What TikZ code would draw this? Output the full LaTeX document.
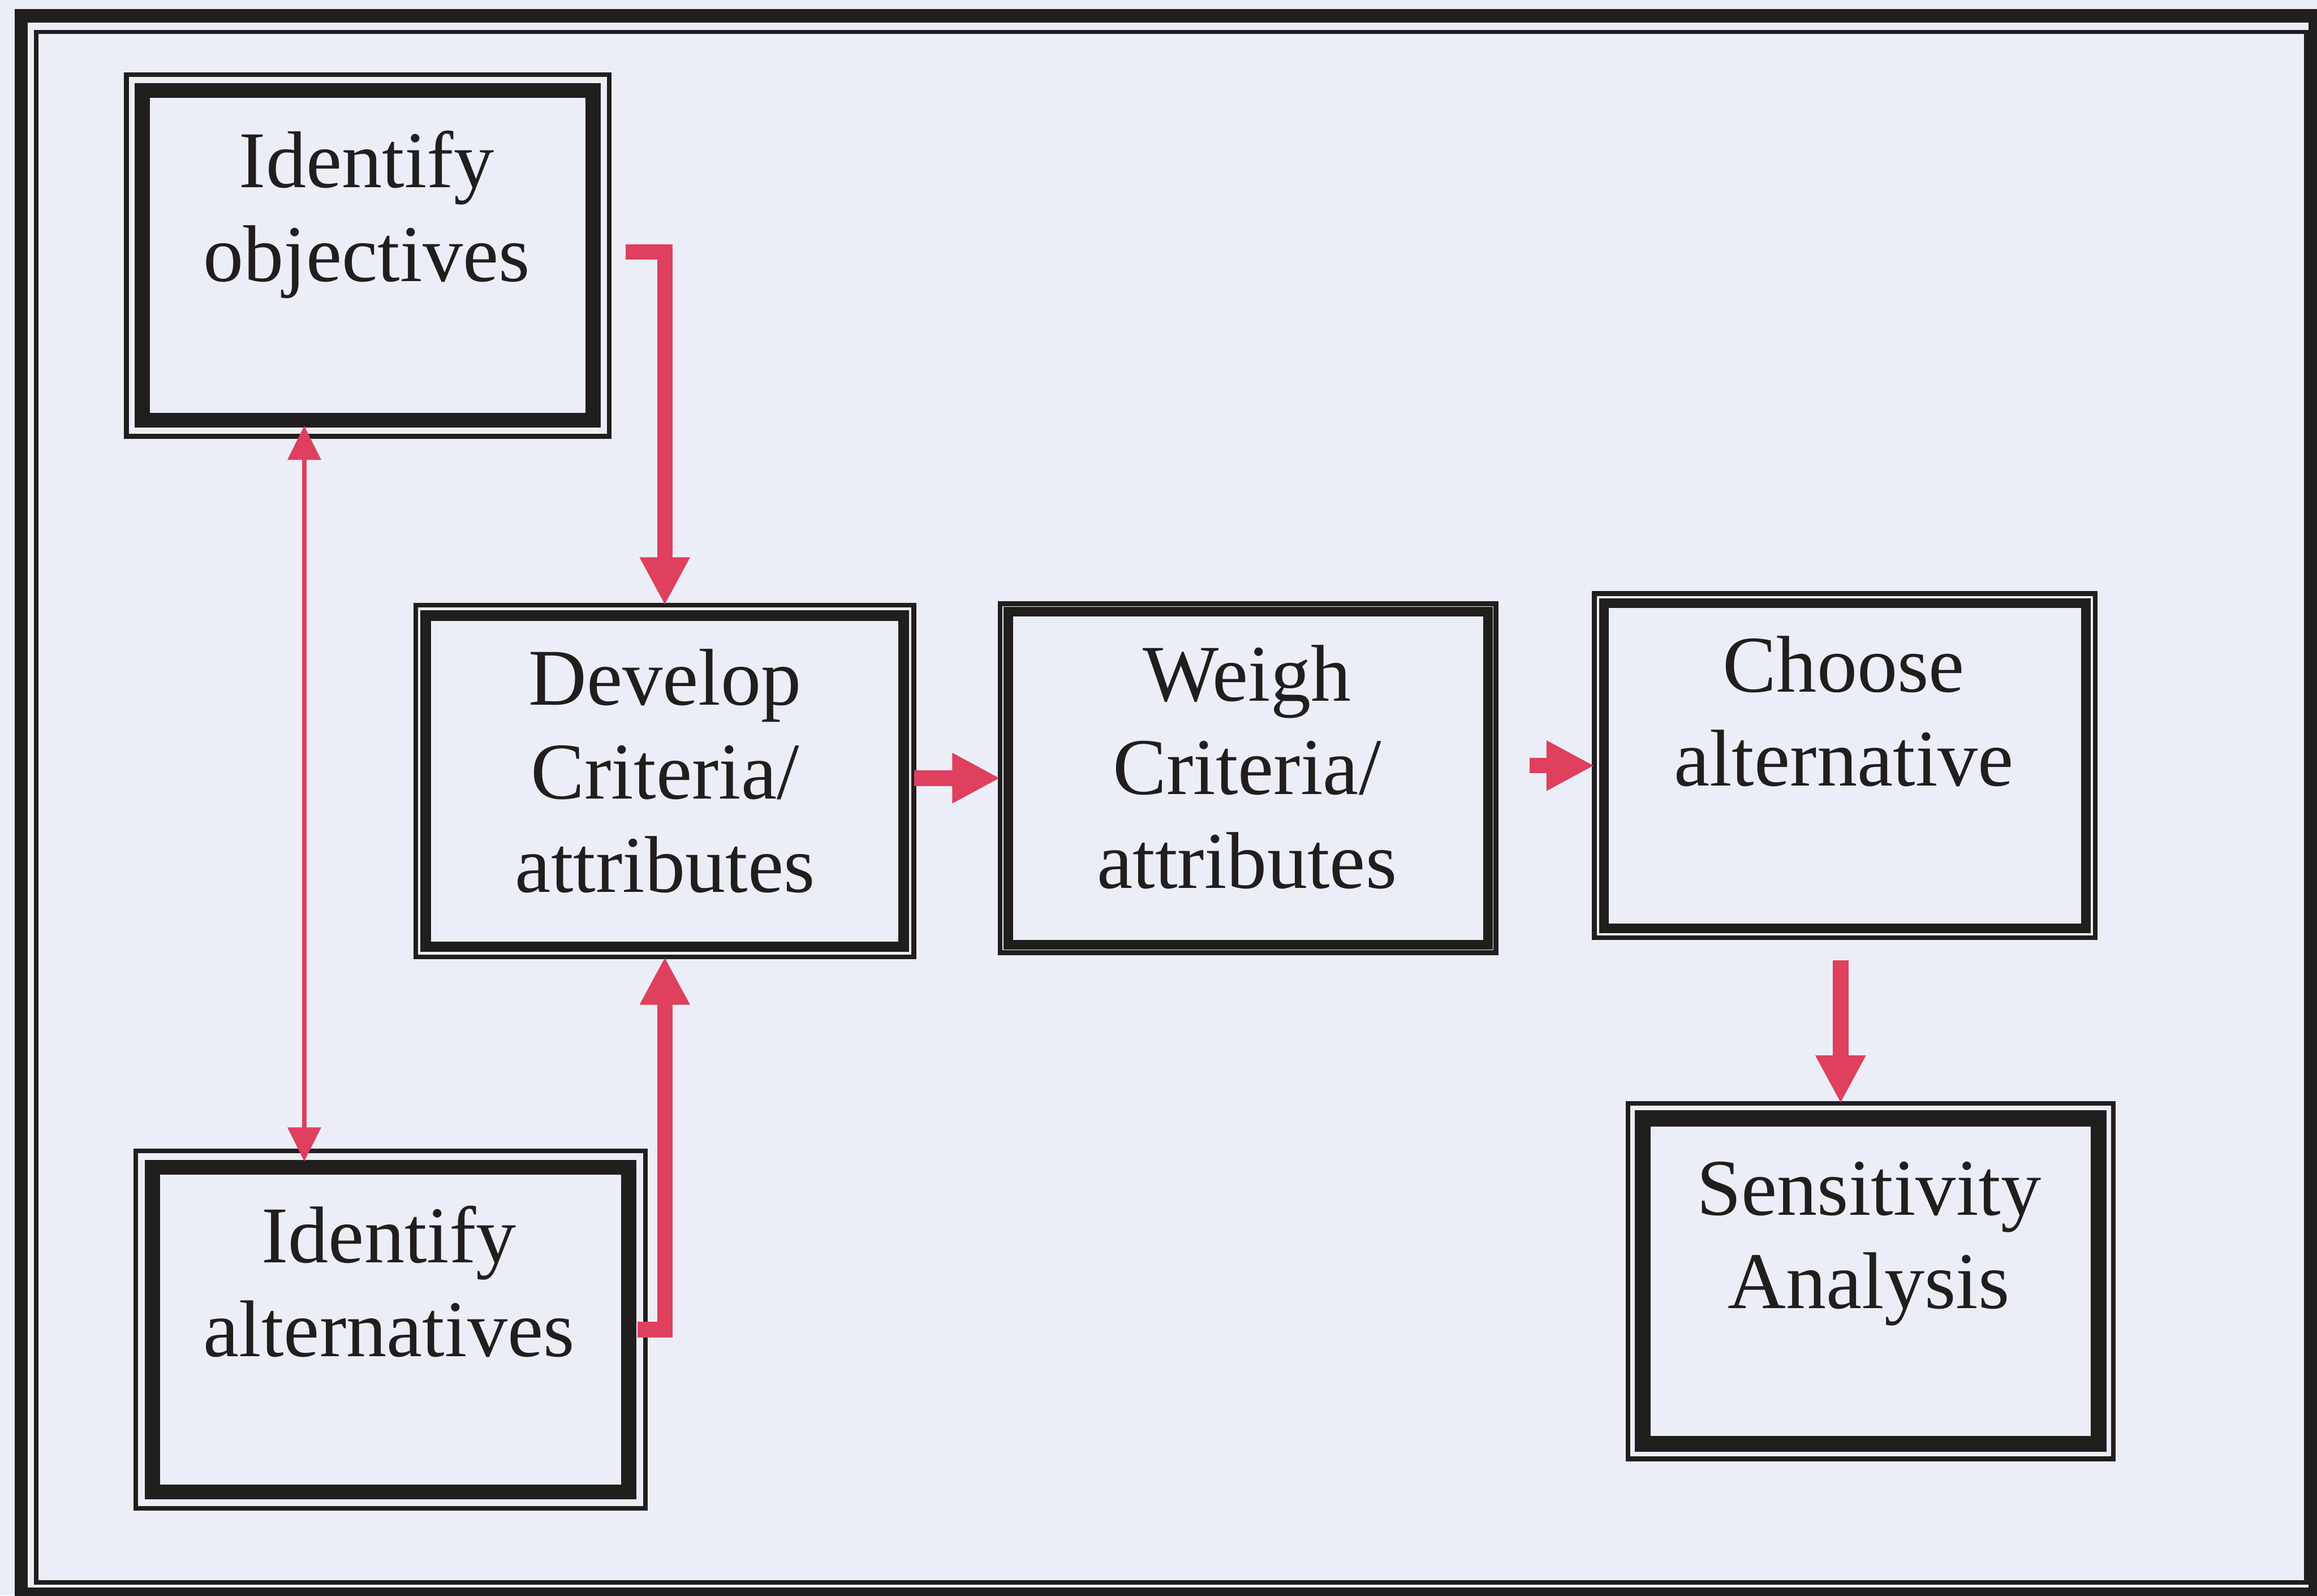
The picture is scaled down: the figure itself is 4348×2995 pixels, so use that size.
\documentclass[tikz,border=0pt]{standalone}
\usepackage{fontspec}
\setmainfont{Liberation Serif}
\usetikzlibrary{arrows.meta,calc}
\definecolor{bg}{RGB}{236,238,247}
\definecolor{arrred}{RGB}{222,64,94}
\definecolor{ink}{RGB}{33,30,30}
\begin{document}
\begin{tikzpicture}[x=0.1mm,y=-0.1mm,
  box/.style={draw=ink, line width=0.9mm, outer sep=0pt, inner sep=0pt},
  lbl/.style={anchor=base, align=center, text=ink, inner sep=0pt,
              font=\fontsize{43}{50}\selectfont},
  bigarrow/.style={draw=arrred, line width=2.9mm, line join=miter,
                   -{Triangle[length=9mm,width=8.8mm]}},
  thinarrow/.style={draw=arrred, line width=0.9mm,
                    {Triangle[length=6.4mm,width=6.1mm]}-{Triangle[length=6.4mm,width=6.1mm]}}]
% page and background
\useasboundingbox (0,0) rectangle (4348,2995);
\fill[bg] (0,0) rectangle (4348,2995);
% outer frame
\draw[ink, line width=2.5mm] (40,30) rectangle (4345,2992);
\draw[ink, line width=0.8mm] (68,60) rectangle (4328,2970);
% boxes
\node[box, minimum width=90.6mm, minimum height=67.9mm] (obj)    at (690,479.5)   {};
\node[box, minimum width=93.5mm, minimum height=66.0mm] (dev)    at (1247.5,1466) {};
\node[box, minimum width=93.0mm, minimum height=65.5mm] (weigh)  at (2342,1460.5) {};
\node[box, minimum width=94.0mm, minimum height=64.6mm] (choose) at (3462,1437)   {};
\node[box, minimum width=91.1mm, minimum height=66.7mm] (sens)   at (3510.5,2404.5) {};
\node[box, minimum width=95.6mm, minimum height=67.1mm] (alt)    at (733,2495.5)  {};
% inner thick borders
\foreach \n/\d/\w in {obj/30/2.8mm, dev/19/2.0mm, weigh/15/1.8mm,
                      choose/18/1.8mm, sens/28/3.0mm, alt/31/2.8mm}
  \draw[ink, line width=\w] ($(\n.north west)+(\d,\d)$) rectangle ($(\n.south east)-(\d,\d)$);
% labels (anchor at the baseline of the last line)
\node[lbl] (tobj)    at (688,528)   {Identify\\objectives};
\node[lbl] (tdev)    at (1248,1675) {Develop\\Criteria/\\attributes};
\node[lbl] (tweigh)  at (2340,1667) {Weigh\\Criteria/\\attributes};
\node[lbl] (tchoose) at (3460,1475) {Choose\\alternative};
\node[lbl] (tsens)   at (3507,2456) {Sensitivity\\Analysis};
\node[lbl] (talt)    at (730,2546)  {Identify\\alternatives};
% connectors
\coordinate (s1) at (1174,473);
\draw[bigarrow] (s1) -| (dev.north);
\draw[bigarrow] ([xshift=-1.5mm]alt.east) -| (dev.south);
\draw[bigarrow] (dev.east |- weigh.west) -- (weigh.west);
\coordinate (s2) at (2870,1437);
\draw[bigarrow] (s2) -- (choose.west);
\coordinate (s3) at (3454,1802);
\draw[bigarrow] (s3) -- (s3 |- sens.north);
\coordinate (dx) at (571,0);
\draw[thinarrow, shorten <=-2mm, shorten >=-2mm] (obj.south -| dx) -- (alt.north -| dx);
\end{tikzpicture}
\end{document}
